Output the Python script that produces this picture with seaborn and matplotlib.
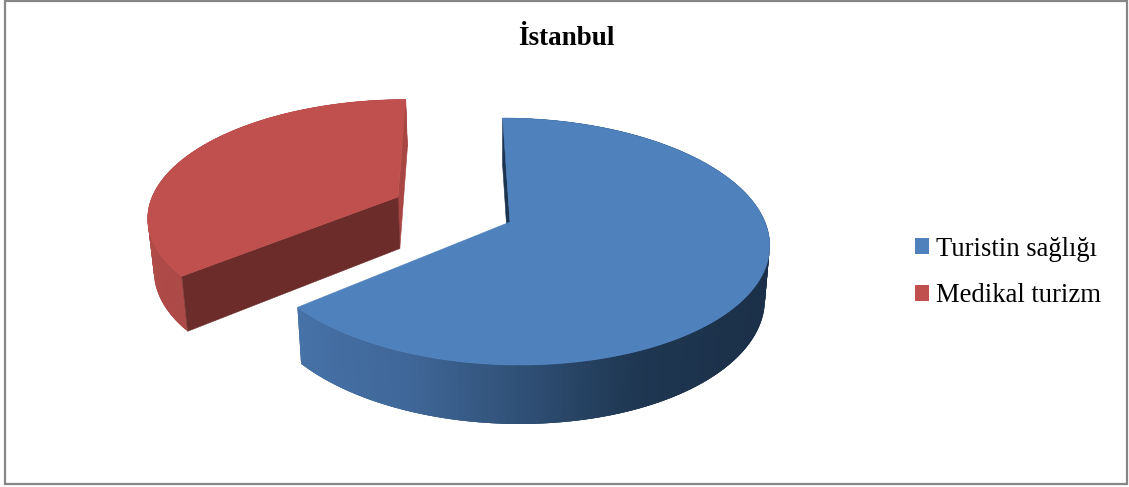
import numpy as np
import matplotlib
matplotlib.use("Agg")
import matplotlib.pyplot as plt
from matplotlib.collections import PolyCollection
from matplotlib.colors import LinearSegmentedColormap
from matplotlib.patches import Patch, Polygon, Rectangle
import seaborn as sns

# Data
categories = ["Turistin sağlığı", "Medikal turizm"]
shares = [64.0, 36.0]
chart_title = "İstanbul"

# Style
top_colors = ["#4F81BD", "#C0504D"]
inner_colors = ["#1C3450", "#6B2C2A"]
end_colors = ["#1C3450", "#A84643"]
side_stops = [
    [(0.0, "#4672A8"), (0.25, "#3F6697"), (0.5, "#2E4E73"), (0.72, "#1F3752"), (1.0, "#1B3048")],
    [(0.0, "#B04C48"), (0.06, "#AD4A47"), (1.0, "#A04441")],
]
side_range = [(297, 770), (147, 405)]
explode = [(0.0, 0.0), (-0.447, 0.2147)]
radii = [1.0, 0.997]
start_angle = 0.0

sns.set_theme(style="white", palette=sns.color_palette(top_colors))
plt.rcParams["font.family"] = ["Liberation Serif", "DejaVu Serif"]

fig = plt.figure(figsize=(11.29, 4.87), dpi=100, facecolor="white")
ax = fig.add_axes([0, 0, 1, 1])
ax.set_xlim(0, 1129)
ax.set_ylim(487, 0)
ax.axis("off")

# Layout of the pie plane (perspective mapping of a unit disc into pixels)
CX, CY, A, B, K, SHEAR = 510.0, 222.0, 255.0, 120.4, 0.158, 0.07


def project(u, v):
    w = 1 + K * v
    y = -B * v / w
    return np.column_stack([CX + A * u / w + SHEAR * y, CY + y])


def extrude(pts):
    out = pts.copy()
    out[:, 0] = 500 + (pts[:, 0] - 500) * 0.982
    out[:, 1] = pts[:, 1] + 52.7 + 0.0445 * (pts[:, 1] - 224)
    return out


def slice_geometry(a0, a1, offset, r):
    th = np.radians(np.linspace(a0, a1, 300))
    arc = project(offset[0] + r * np.sin(th), offset[1] + r * np.cos(th))
    apex = project(np.array([offset[0]]), np.array([offset[1]]))
    return arc, apex


fracs = np.array(shares) / np.sum(shares)
edges = start_angle + 360 * np.concatenate([[0], np.cumsum(fracs)])

# Back slice first so the front slice overlaps it
for i in [1, 0]:
    base = 2 + 3 * (1 - i)
    arc, apex = slice_geometry(edges[i], edges[i + 1], explode[i], radii[i])
    arc_low = extrude(arc)
    apex_low = extrude(apex)
    cmap = LinearSegmentedColormap.from_list(f"side{i}", side_stops[i])
    quads, cols = [], []
    n = len(arc)
    for j in range(n - 1):
        k = min(j + 3, n - 1)
        quads.append([arc[j], arc[k], arc_low[k], arc_low[j]])
        t = (arc[j, 0] - side_range[i][0]) / (side_range[i][1] - side_range[i][0])
        cols.append(cmap(np.clip(t, 0, 1)))
    ax.add_collection(PolyCollection(quads, facecolors=cols, edgecolors="none", linewidths=0, zorder=base))
    # the two cut faces
    start_face = np.vstack([arc[0], apex[0], apex_low[0], arc_low[0]])
    end_face = np.vstack([arc[-1], apex[0], apex_low[0], arc_low[-1]])
    if i == 0:
        ax.add_patch(Polygon(start_face, closed=True, fc=inner_colors[i], ec=inner_colors[i], lw=0.4, zorder=base + 0.5))
    else:
        ax.add_patch(Polygon(end_face, closed=True, fc=end_colors[i], ec=end_colors[i], lw=0.4, zorder=base + 0.5))
        ax.add_patch(Polygon(start_face, closed=True, fc=inner_colors[i], ec=inner_colors[i], lw=0.4, zorder=base + 0.6))
    ax.add_patch(Polygon(np.vstack([apex, arc]), closed=True, fc=top_colors[i], ec=top_colors[i], lw=0.4, zorder=base + 1))

# Frame
ax.add_patch(Rectangle((5, 1), 1122, 483, fill=False, ec="#868686", lw=1.6, zorder=10))

# Title
ax.text(566, 38.5, chart_title, ha="center", va="center", fontsize=19.5, fontweight="bold", color="black",
        family=["Liberation Serif", "DejaVu Serif"])

# Legend
handles = [Patch(fc=c, ec="none", label=l) for c, l in zip(top_colors, categories)]
leg = ax.legend(handles=handles, loc="center left", bbox_to_anchor=(907 / 1129, 1 - 272.5 / 487),
                frameon=False, fontsize=19.2, handlelength=0.52, handleheight=0.52,
                handletextpad=0.26, labelspacing=0.82, borderpad=0.3, borderaxespad=0, labelcolor="black")

fig.savefig("out.png", dpi=100, facecolor="white")
